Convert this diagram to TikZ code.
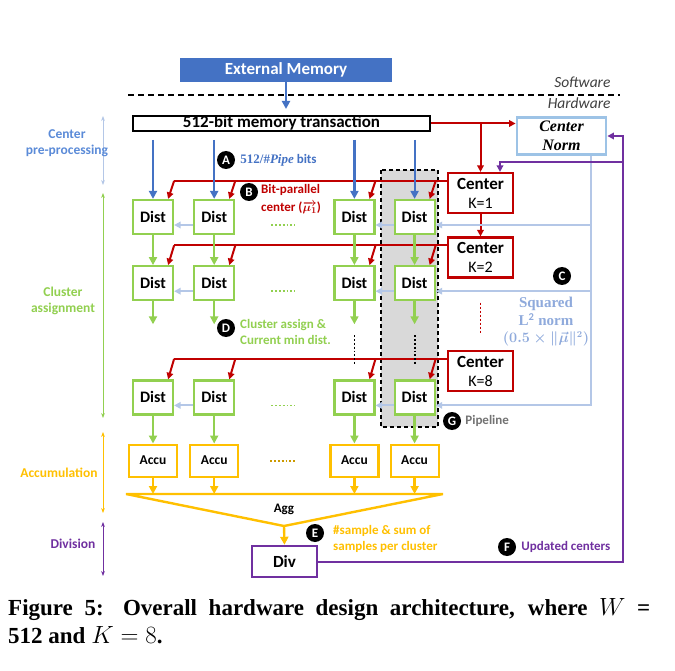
\documentclass[tikz,border=0pt]{standalone}
\usepackage{fontspec}
\setmainfont{Carlito}
\newfontfamily\cambria{Liberation Serif}
\usetikzlibrary{arrows.meta,positioning}

\definecolor{memblue}{HTML}{4472C4}
\definecolor{ctrred}{HTML}{C00000}
\definecolor{distgreen}{HTML}{92D050}
\definecolor{normblue}{HTML}{9DC3E6}
\definecolor{lineblue}{HTML}{B4C7E7}
\definecolor{sqblue}{HTML}{8FAADC}
\definecolor{accuorange}{HTML}{FFC000}
\definecolor{divpurple}{HTML}{7030A0}
\definecolor{pipegray}{HTML}{D9D9D9}
\definecolor{stageblue}{HTML}{5B8BD8}

\newcommand{\muone}{\mbox{\boldmath$\overrightarrow{\mu_1}$}}
\newcommand{\normhalf}{\mbox{\fontsize{13.5}{16}\selectfont\boldmath$(0.5\times\|\vec{\mu}\|^2)$}}
\newcommand{\sqtwo}{\mbox{$^{\mathbf{2}}$}}

\begin{document}
\begin{tikzpicture}[x=1pt, y=-1pt]
    \tikzset{
      dist/.style = {draw=distgreen, line width=2.2pt, fill=white,
      minimum width=40pt, minimum height=34pt, inner sep=0pt,
      font=\fontsize{16}{18}\selectfont\bfseries},
      accu/.style = {draw=accuorange, line width=2.2pt, fill=white,
      minimum width=48pt, minimum height=32pt, inner sep=0pt,
      font=\fontsize{13.5}{15}\selectfont\bfseries},
      ctrbox/.style = {draw=ctrred, line width=2.2pt, fill=white,
      minimum width=65pt, minimum height=40pt, inner sep=0pt, align=center,
      font=\fontsize{16}{19}\selectfont},
      badge/.style = {circle, fill=black, text=white, inner sep=0pt,
      minimum size=18pt, font=\fontsize{13}{13}\selectfont\bfseries},
      notetext/.style = {anchor=west, align=left, inner sep=0pt,
      font=\fontsize{13}{16}\selectfont\bfseries},
      stage/.style = {align=center, inner sep=0pt,
      font=\fontsize{13.5}{16}\selectfont\bfseries},
      arrowend/.style = {-{Triangle[length=6.5pt, width=6.5pt]}},
      redline/.style = {draw=ctrred, line width=2pt},
      redarr/.style = {redline, arrowend},
      bluearr/.style = {draw=memblue, line width=2.2pt,
      -{Triangle[length=8pt, width=8pt]}},
      grnarr/.style = {draw=distgreen, line width=2.4pt,
      -{Triangle[length=8pt, width=8pt]}},
      lbarr/.style = {draw=lineblue, line width=2pt, arrowend},
      purarr/.style = {draw=divpurple, line width=2pt, arrowend},
      accline/.style = {draw=accuorange, line width=2.4pt},
      accarr/.style = {accline, -{Triangle[length=8pt, width=8pt]}},
      stagespan/.style = {line width=1pt,
      {Stealth[length=5pt]}-{Stealth[length=5pt]}}
    }

    \useasboundingbox[fill=white] (0,0) rectangle (675,671);

    % pipeline column
    \draw[fill=pipegray, draw=black, line width=1.3pt,
      dash pattern=on 4pt off 3pt] (381,170) rectangle (438,427);

    \node[fill=memblue, text=white, minimum width=212pt, minimum height=24pt,
      font=\fontsize{17}{19}\selectfont\bfseries] (ext) at (286,70)
      {External Memory};
    \draw[line width=1.6pt, dash pattern=on 6pt off 4pt] (128,95) -- (620,95);
    \node[anchor=east, text=black!75, font=\fontsize{15.5}{17}\selectfont\itshape]
      (sw) at (614,82) {Software};
    \node[anchor=east, text=black!75, font=\fontsize{15.5}{17}\selectfont\itshape]
      (hw) at (614,103) {Hardware};

    \node[draw=black, line width=2.2pt, minimum width=297pt, minimum height=15pt,
      inner sep=0pt, text height=11pt, text depth=3pt,
      font=\fontsize{17}{19}\selectfont\bfseries] (mem) at (281.5,123.5)
      {512-bit memory transaction};
    \coordinate (memin) at (286,109);
    \draw[bluearr] (ext.south) -- (memin);

    \node[draw=normblue, line width=2.8pt, minimum width=89pt, minimum height=37pt,
      inner sep=0pt, align=center,
      font=\fontsize{16}{19}\selectfont\cambria\bfseries\itshape]
      (norm) at (561.5,136) {Center\\Norm};

    % distance units, one row per center
    \node[dist] (d11) at (153,217) {Dist};
    \node[dist, right=19pt of d11] (d12) {Dist};
    \node[dist, right=98pt of d12] (d13) {Dist};
    \node[dist, right=18pt of d13] (d14) {Dist};
    \foreach \j in {1,...,4} {
      \node[dist, below=30pt of d1\j] (d2\j) {Dist};
      \node[dist, below=78pt of d2\j] (d8\j) {Dist};
      \node[accu, below=28pt of d8\j] (a\j) {Accu};
    }

    \node[ctrbox] (c1) at (480.5,193) {{\fontsize{17}{19}\selectfont\bfseries Center}\\K=1};
    \node[ctrbox] (c2) at (480.5,257.5) {{\fontsize{17}{19}\selectfont\bfseries Center}\\K=2};
    \node[ctrbox] (c8) at (480.5,371) {{\fontsize{17}{19}\selectfont\bfseries Center}\\K=8};

    \node[draw=divpurple, line width=2.4pt, minimum width=65pt, minimum height=31pt,
      font=\fontsize{17}{19}\selectfont\bfseries] (div) at (284.5,561.5) {Div};

    % red: memory and centers
    \draw[redarr] (mem.east) -- (mem.east -| norm.west);
    \draw[redarr] (mem.east -| c1.north) -- (c1.north);
    \draw[redarr] (c1.south) -- (c2.north);
    \draw[redline, dotted, line width=1.8pt]
      ([yshift=-24pt]c2.south) -- ([yshift=-55pt]c2.south);
    \foreach \k in {1,2,8} {
      \coordinate (r\k) at ([yshift=-9pt]c\k.north west);
      \draw[redline] (r\k) -- (d\k1.north east |- r\k);
      \foreach \j in {1,...,4}
        \draw[redarr] (d\k\j.north east |- r\k) -- ([xshift=-6pt]d\k\j.north east);
    }

    % blue: memory words
    \coordinate (bt) at (0,140);
    \foreach \j in {1,...,4}
      \draw[bluearr] (d1\j.north |- bt) -- (d1\j.north);

    % light blue: squared norm
    \coordinate (lb) at (591,0);
    \foreach \k in {1,2,8} {
      \coordinate (in\k) at ([yshift=-8pt]d\k4.east);
      \draw[lbarr] ([yshift=-8pt]d\k2.west) -- ([yshift=-8pt]d\k1.east);
      \draw[lbarr] ([yshift=-8pt]d\k4.west) -- ([yshift=-8pt]d\k3.east);
      \draw[distgreen, dotted, line width=1.8pt]
        ([xshift=36pt, yshift=-8pt]d\k2.east) -- ++(24,0);
    }
    \draw[lbarr] (norm.south -| lb) -- (lb |- in8) -- (in8);
    \draw[lbarr] (lb |- in1) -- (in1);
    \draw[lbarr] (lb |- in2) -- (in2);

    % green: assignment flow
    \foreach \j in {1,...,4} {
      \draw[grnarr] (d1\j.south) -- (d2\j.north);
      \draw[grnarr] (d2\j.south) -- ++(0,23);
      \draw[grnarr] (d8\j.south) -- (a\j.north);
    }
    \draw[dotted, line width=1.8pt] ([yshift=-34pt]d23.south) -- ([yshift=-64pt]d23.south);
    \draw[dotted, line width=1.8pt] ([yshift=-34pt]d24.south) -- ([yshift=-64pt]d24.south);

    % aggregation
    \coordinate (aggl) at (126,494);
    \coordinate (aggr) at (443,494);
    \coordinate (aggt) at (284,526);
    \draw[accline, line join=miter] (aggl) -- (aggr) -- (aggt) -- cycle;
    \foreach \j in {1,...,4}
      \draw[accarr] (a\j.south) -- (a\j.south |- aggl);
    \draw[accuorange!80!black, dotted, line width=1.8pt]
      ([xshift=31pt]a2.east) -- ++(25,0);
    \node[font=\fontsize{13}{15}\selectfont\bfseries] (agg) at (284,509) {Agg};
    \draw[accarr] (aggt) -- (div.north);

    % purple: updated centers
    \coordinate (pr) at (623,0);
    \coordinate (pb) at (500,162);
    \draw[purarr] (div.east) -- (div.east -| pr) -- (pr |- norm.east) -- (norm.east);
    \draw[purarr] (pr |- pb) -- (pb) -- (pb |- c1.north);

    % stages
    \draw[stagespan, lineblue] (103,116) -- (103,185);
    \draw[stagespan, distgreen] (103,193) -- (103,418);
    \draw[stagespan, accuorange] (103,432) -- (103,513);
    \draw[stagespan, divpurple] (103,522) -- (103,576);
    \node[stage, text=stageblue] (lpre) at (67,143) {Center\\pre-processing};
    \node[stage, text=distgreen] (lclu) at (63,301) {Cluster\\assignment};
    \node[stage, text=accuorange] (lacc) at (59,473) {Accumulation};
    \node[stage, text=divpurple] (ldiv) at (73,544) {Division};

    % annotations
    \node[badge] (bA) at (226,160) {A};
    \node[notetext, text=memblue, right=5pt of bA]
      (tA) {{\cambria 512/\#\textit{Pipe}} bits};
    \node[badge] (bB) at (249,192) {B};
    \node[notetext, text=ctrred, anchor=north west,
      font=\fontsize{13}{18}\selectfont\bfseries] (tB) at (261,184)
      {Bit-parallel\\center (\muone)};
    \node[badge] (bC) at (562,276) {C};
    \node[stage, text=sqblue, font=\fontsize{15}{17.5}\selectfont\cambria\bfseries]
      (tC) at (546,322) {Squared\\L\sqtwo{} norm\\\normhalf};
    \node[badge] (bD) at (226,328) {D};
    \node[notetext, text=distgreen, anchor=north west] (tD) at (240,319)
      {Cluster assign \&\\Current min dist.};
    \node[badge] (bE) at (315,533) {E};
    \node[notetext, text=accuorange, anchor=north west] (tE) at (333,525)
      {\#sample \& sum of\\samples per cluster};
    \node[badge] (bF) at (507,547) {F};
    \node[notetext, text=divpurple, right=5pt of bF] (tF) {Updated centers};
    \node[badge] (bG) at (452,421) {G};
    \node[notetext, text=black!55, right=4pt of bG] (tG) {Pipeline};

    \node[anchor=north west, text width=642pt, align=justify, inner sep=0pt,
      font=\fontsize{23}{28}\selectfont\cambria\bfseries] (cap) at (8,598)
      {Figure 5: Overall hardware design architecture, where $W$ =\linebreak
      512 and $K = 8$.};
\end{tikzpicture}
\end{document}
